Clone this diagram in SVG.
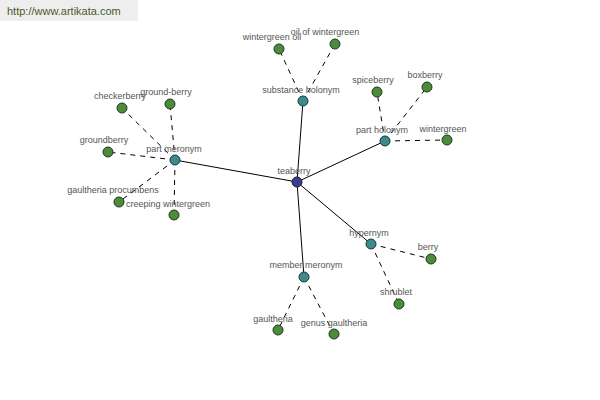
<svg xmlns="http://www.w3.org/2000/svg" width="600" height="400" viewBox="0 0 600 400">
<style>
.lbl{font-family:"Liberation Sans",Arial,sans-serif;font-size:9px;fill:#555;text-anchor:middle}
.leaf{fill:#4c8a3e;stroke:#1e3a18;stroke-width:1}
.hub{fill:#3c8a8c;stroke:#1a3a3c;stroke-width:1}
.root{fill:#3b3f8a;stroke:#15183a;stroke-width:1}
.solid{stroke:#000;stroke-width:1;fill:none}
.dash{stroke:#000;stroke-width:1;stroke-dasharray:5,5;fill:none}
</style>
<rect width="600" height="400" fill="#fff"/>
<g id="watermark">
<rect x="0" y="0" width="138" height="21" fill="#eeeeee"/>
<text x="7" y="15" style="font-family:'Liberation Sans',Arial,sans-serif;font-size:11px;fill:#4a5a2a">http://www.artikata.com</text>
</g>
<g id="connectors">
<line class="solid" x1="297" y1="182" x2="175" y2="160"/>
<line class="solid" x1="297" y1="182" x2="303" y2="101"/>
<line class="solid" x1="297" y1="182" x2="385" y2="141"/>
<line class="solid" x1="297" y1="182" x2="304" y2="277"/>
<line class="solid" x1="297" y1="182" x2="371" y2="244"/>
<line class="dash" x1="175" y1="160" x2="122" y2="108"/>
<line class="dash" x1="175" y1="160" x2="170" y2="104"/>
<line class="dash" x1="175" y1="160" x2="108" y2="152"/>
<line class="dash" x1="175" y1="160" x2="119" y2="202"/>
<line class="dash" x1="175" y1="160" x2="174" y2="215"/>
<line class="dash" x1="303" y1="101" x2="279" y2="49"/>
<line class="dash" x1="303" y1="101" x2="335" y2="44"/>
<line class="dash" x1="385" y1="141" x2="377" y2="92"/>
<line class="dash" x1="385" y1="141" x2="427" y2="87"/>
<line class="dash" x1="385" y1="141" x2="447" y2="140"/>
<line class="dash" x1="304" y1="277" x2="278" y2="330"/>
<line class="dash" x1="304" y1="277" x2="334" y2="334"/>
<line class="dash" x1="371" y1="244" x2="431" y2="259"/>
<line class="dash" x1="371" y1="244" x2="399" y2="304"/>
</g>
<g id="n-checkerberry"><circle class="leaf" cx="122" cy="108" r="5"/><text class="lbl" x="120" y="99">checkerberry</text></g>
<g id="n-ground-berry"><circle class="leaf" cx="170" cy="104" r="5"/><text class="lbl" x="166" y="95">ground-berry</text></g>
<g id="n-groundberry"><circle class="leaf" cx="108" cy="152" r="5"/><text class="lbl" x="104" y="143">groundberry</text></g>
<g id="n-gaultheria-procumbens"><circle class="leaf" cx="119" cy="202" r="5"/><text class="lbl" x="113" y="193">gaultheria procumbens</text></g>
<g id="n-creeping-wintergreen"><circle class="leaf" cx="174" cy="215" r="5"/><text class="lbl" x="168" y="207">creeping wintergreen</text></g>
<g id="n-part-meronym"><circle class="hub" cx="175" cy="160" r="5"/><text class="lbl" x="174" y="152">part meronym</text></g>
<g id="n-wintergreen-oil"><circle class="leaf" cx="279" cy="49" r="5"/><text class="lbl" x="272" y="40">wintergreen oil</text></g>
<g id="n-oil-of-wintergreen"><circle class="leaf" cx="335" cy="44" r="5"/><text class="lbl" x="325" y="35">oil of wintergreen</text></g>
<g id="n-substance-holonym"><circle class="hub" cx="303" cy="101" r="5"/><text class="lbl" x="301" y="93">substance holonym</text></g>
<g id="n-spiceberry"><circle class="leaf" cx="377" cy="92" r="5"/><text class="lbl" x="373" y="83">spiceberry</text></g>
<g id="n-boxberry"><circle class="leaf" cx="427" cy="87" r="5"/><text class="lbl" x="425" y="78">boxberry</text></g>
<g id="n-wintergreen"><circle class="leaf" cx="447" cy="140" r="5"/><text class="lbl" x="443" y="132">wintergreen</text></g>
<g id="n-part-holonym"><circle class="hub" cx="385" cy="141" r="5"/><text class="lbl" x="382" y="133">part holonym</text></g>
<g id="n-teaberry"><circle class="root" cx="297" cy="182" r="5"/><text class="lbl" x="294" y="174">teaberry</text></g>
<g id="n-member-meronym"><circle class="hub" cx="304" cy="277" r="5"/><text class="lbl" x="306" y="268">member meronym</text></g>
<g id="n-gaultheria"><circle class="leaf" cx="278" cy="330" r="5"/><text class="lbl" x="273" y="322">gaultheria</text></g>
<g id="n-genus-gaultheria"><circle class="leaf" cx="334" cy="334" r="5"/><text class="lbl" x="334" y="326">genus gaultheria</text></g>
<g id="n-hypernym"><circle class="hub" cx="371" cy="244" r="5"/><text class="lbl" x="369" y="236">hypernym</text></g>
<g id="n-berry"><circle class="leaf" cx="431" cy="259" r="5"/><text class="lbl" x="428" y="250">berry</text></g>
<g id="n-shrublet"><circle class="leaf" cx="399" cy="304" r="5"/><text class="lbl" x="396" y="295">shrublet</text></g>
</svg>
